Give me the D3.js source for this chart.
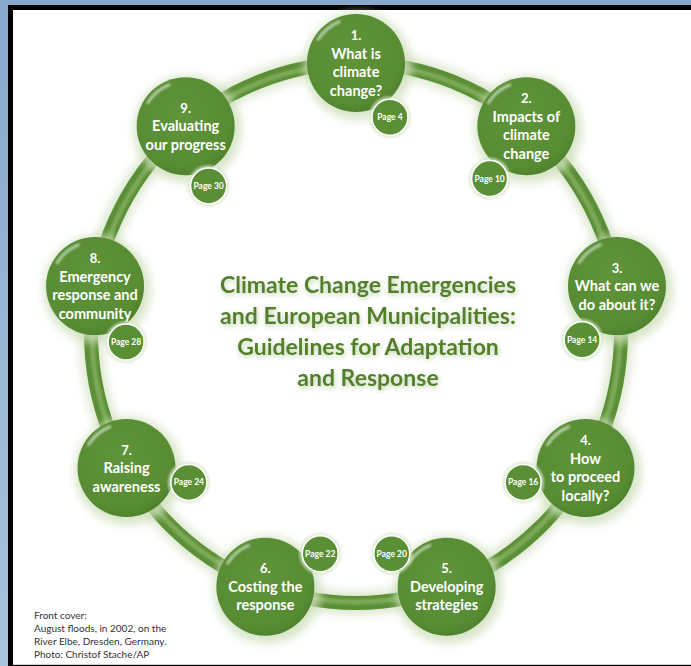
<!DOCTYPE html>
<html lang="en">
<head>
<meta charset="utf-8">
<script src="https://d3js.org/d3.v7.min.js"></script>
<style type="text/css">
body {
	margin: 0;
	background: #ffffff;
	font-family: Lato, "Open Sans", sans-serif;
}
</style>
</head>
<body>
<script type="text/javascript">

// Chapters round the ring
var numbers = ["1.", "2.", "3.", "4.", "5.", "6.", "7.", "8.", "9."];
var chapters = [
  ["What is", "climate", "change?"],
  ["Impacts of", "climate", "change"],
  ["What can we", "do about it?"],
  ["How", "to proceed", "locally?"],
  ["Developing", "strategies"],
  ["Costing the", "response"],
  ["Raising", "awareness"],
  ["Emergency", "response and", "community"],
  ["Evaluating", "our progress"]
];
var pages = ["Page 4", "Page 10", "Page 14", "Page 16", "Page 20", "Page 22", "Page 24", "Page 28", "Page 30"];

var titleLines = ["Climate Change Emergencies", "and European Municipalities:",
                  "Guidelines for Adaptation", "and Response"];
var footerLines = ["Front cover:", "August floods, in 2002, on the",
                   "River Elbe, Dresden, Germany.", "Photo: Christof Stache/AP"];

// where the page badge sits on each bubble (degrees)
var badgeDir = [58, 125, 123, 167, 211, -31, 13, 61, 69];

var width = 691;
var height = 666;
var cx = 356, cy = 333, rx = 265, ry = 270;
var bubbleR = 49, badgeR = 18, badgeDist = 64;

var svg = d3.select("body")
            .append("svg")
            .attr("width", width)
            .attr("height", height);

var defs = svg.append("defs");

var bg = defs.append("linearGradient").attr("id", "blue").attr("x1", 0).attr("y1", 0).attr("x2", 0).attr("y2", 1);
bg.append("stop").attr("offset", "0%").attr("stop-color", "#87a9cc");
bg.append("stop").attr("offset", "100%").attr("stop-color", "#a9c3de");

var glow = defs.append("filter").attr("id", "glow").attr("x", "-30%").attr("y", "-30%").attr("width", "160%").attr("height", "160%");
glow.append("feGaussianBlur").attr("stdDeviation", 4);

var soft = defs.append("filter").attr("id", "soft").attr("x", "-50%").attr("y", "-50%").attr("width", "200%").attr("height", "200%");
soft.append("feGaussianBlur").attr("stdDeviation", 1.2);

var tshadow = defs.append("filter").attr("id", "tshadow").attr("x", "-10%").attr("y", "-30%").attr("width", "120%").attr("height", "160%");
tshadow.append("feGaussianBlur").attr("in", "SourceAlpha").attr("stdDeviation", 2.5).attr("result", "b");
tshadow.append("feFlood").attr("flood-color", "#b9cf9e").attr("flood-opacity", 0.9);
tshadow.append("feComposite").attr("in2", "b").attr("operator", "in").attr("result", "s");
tshadow.append("feOffset").attr("dx", 1).attr("dy", 2).attr("result", "o");
var tm = tshadow.append("feMerge");
tm.append("feMergeNode").attr("in", "o");
tm.append("feMergeNode").attr("in", "SourceGraphic");

var ball = defs.append("radialGradient").attr("id", "ball").attr("cx", "45%").attr("cy", "40%").attr("r", "60%");
ball.append("stop").attr("offset", "0%").attr("stop-color", "#5f9439");
ball.append("stop").attr("offset", "85%").attr("stop-color", "#578c33");
ball.append("stop").attr("offset", "100%").attr("stop-color", "#4f822d");

// frame
svg.append("rect").attr("width", width).attr("height", height).attr("fill", "url(#blue)");
svg.append("rect").attr("x", 8).attr("y", 5).attr("width", width - 8).attr("height", height - 5).attr("fill", "#000");
svg.append("rect").attr("x", 13).attr("y", 10).attr("width", width - 13).attr("height", 654).attr("fill", "#fff");
svg.append("line").attr("x1", 13).attr("x2", width).attr("y1", 664.5).attr("y2", 664.5)
   .attr("stroke", "#d4d4d4").attr("stroke-width", 1);

var angle = d3.scaleLinear().domain([0, numbers.length]).range([-Math.PI / 2, Math.PI * 1.5]);
function px(i) { return cx + rx * Math.cos(angle(i)); }
function py(i) { return cy + ry * Math.sin(angle(i)); }

// the ring tube
var ring = svg.append("g");
ring.append("ellipse").attr("cx", cx).attr("cy", cy).attr("rx", rx).attr("ry", ry)
    .attr("fill", "none").attr("stroke", "#dfe9d3").attr("stroke-width", 24).attr("filter", "url(#glow)");
ring.append("ellipse").attr("cx", cx).attr("cy", cy).attr("rx", rx).attr("ry", ry)
    .attr("fill", "none").attr("stroke", "#5b8f36").attr("stroke-width", 14);
ring.append("ellipse").attr("cx", cx).attr("cy", cy).attr("rx", rx - 1).attr("ry", ry - 1)
    .attr("fill", "none").attr("stroke", "#86b161").attr("stroke-width", 5).attr("opacity", 0.8)
    .attr("filter", "url(#soft)");

// bubbles
var nodes = svg.selectAll("g.node")
   .data(numbers)
   .enter()
   .append("g")
   .attr("class", "node")
   .attr("transform", function(d, i) { return "translate(" + px(i) + "," + py(i) + ")"; });

nodes.append("circle").attr("r", bubbleR + 5).attr("cx", 2).attr("cy", 3)
     .attr("fill", "#cfe0bd").attr("opacity", 0.8).attr("filter", "url(#glow)");
nodes.append("circle").attr("r", bubbleR).attr("fill", "url(#ball)");

var gloss = d3.arc().innerRadius(bubbleR - 6).outerRadius(bubbleR - 3)
              .startAngle(-1.05).endAngle(-0.35).cornerRadius(2);
nodes.append("path").attr("d", gloss).attr("fill", "#ffffff").attr("opacity", 0.55).attr("filter", "url(#soft)");

nodes.each(function(d, i) {
  var g = d3.select(this);
  var lines = [d].concat(chapters[i]);
  var lh = 18.5;
  var y0 = -(lines.length - 1) * lh / 2 + 5;
  g.selectAll("text")
   .data(lines)
   .enter()
   .append("text")
   .attr("x", 0)
   .attr("y", function(t, k) { return y0 + k * lh; })
   .attr("text-anchor", "middle")
   .attr("fill", "#ffffff")
   .attr("font-weight", 700)
   .attr("font-size", function(t, k) { return k == 0 ? "13px" : "14.5px"; })
   .text(function(t) { return t; });

  // page badge
  var a = badgeDir[i] * Math.PI / 180;
  var b = g.append("g").attr("transform", "translate(" + badgeDist * Math.cos(a) + "," + badgeDist * Math.sin(a) + ")");
  b.append("circle").attr("r", badgeR + 3).attr("fill", "#d8e6c9").attr("opacity", 0.7).attr("filter", "url(#soft)");
  b.append("circle").attr("r", badgeR).attr("fill", "#5a8f35").attr("stroke", "#ffffff").attr("stroke-width", 1.5);
  b.append("text").attr("y", 3).attr("text-anchor", "middle").attr("fill", "#fff")
   .attr("font-size", "8.5px").attr("font-weight", 700).text(pages[i]);
});

// centre title
svg.append("g").attr("filter", "url(#tshadow)")
   .selectAll("text")
   .data(titleLines)
   .enter()
   .append("text")
   .attr("x", 368)
   .attr("y", function(d, i) { return 293 + i * 31; })
   .attr("text-anchor", "middle")
   .attr("fill", "#527f2c")
   .attr("font-size", "23px")
   .attr("font-weight", 700)
   .text(function(d) { return d; });

// footer
svg.selectAll("text.foot")
   .data(footerLines)
   .enter()
   .append("text")
   .attr("class", "foot")
   .attr("x", 34)
   .attr("y", function(d, i) { return 619 + i * 13; })
   .attr("fill", "#333")
   .attr("font-size", "10px")
   .text(function(d) { return d; });

</script>
</body>
</html>
